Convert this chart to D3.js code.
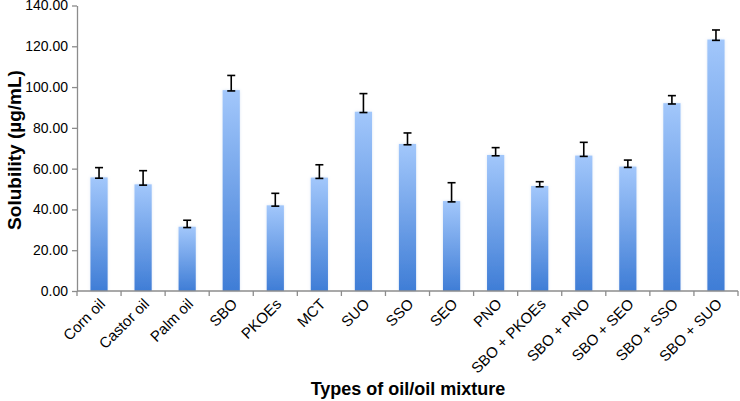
<!DOCTYPE html>
<html>
<head>
<meta charset="utf-8">
<script src="https://cdn.jsdelivr.net/npm/d3@7"></script>
<style>
  body { margin: 0; background: #fff; }
  svg { display: block; font-family: "Liberation Sans", Arial, sans-serif; }
  .tick-label { font-size: 14px; fill: #000; }
  .axis-title { font-size: 18px; font-weight: bold; fill: #000; }
</style>
</head>
<body>
<div id="chart"></div>
<script>
const width = 740, height = 401;
const margin = { top: 5.5, right: 2, bottom: 110, left: 77 };
const innerWidth = width - margin.left - margin.right;
const innerHeight = height - margin.top - margin.bottom;

// data
const oils = ["Corn oil", "Castor oil", "Palm oil", "SBO", "PKOEs", "MCT", "SUO", "SSO", "SEO", "PNO",
  "SBO + PKOEs", "SBO + PNO", "SBO + SEO", "SBO + SSO", "SBO + SUO"];
const solubility = [55.7, 52.3, 31.5, 98.5, 42.0, 55.6, 87.9, 72.1, 44.1, 66.7, 51.5, 66.4, 61.0, 92.1, 123.3];
const errPlus = [4.8, 6.7, 3.2, 7.2, 5.9, 6.3, 8.9, 5.4, 9.0, 3.6, 2.1, 6.5, 3.2, 3.7, 4.7];
const yTicks = [0, 20, 40, 60, 80, 100, 120, 140];

const data = oils.map((o, i) => ({ oil: o, value: solubility[i], err: errPlus[i] }));

const svg = d3.select("#chart")
  .append("svg")
  .attr("width", width)
  .attr("height", height);

const defs = svg.append("defs");
const grad = defs.append("linearGradient")
  .attr("id", "barGrad")
  .attr("x1", 0).attr("y1", 0).attr("x2", 0).attr("y2", 1);
grad.append("stop").attr("offset", "0%").attr("stop-color", "#a2c7fb");
grad.append("stop").attr("offset", "100%").attr("stop-color", "#3f7dd6");

const glow = defs.append("filter").attr("id", "glow")
  .attr("x", "-30%").attr("y", "-10%").attr("width", "160%").attr("height", "120%");
glow.append("feGaussianBlur").attr("in", "SourceAlpha").attr("stdDeviation", 1.5).attr("result", "b");
glow.append("feFlood").attr("flood-color", "#9ab8e0").attr("flood-opacity", 0.35);
glow.append("feComposite").attr("in2", "b").attr("operator", "in").attr("result", "s");
const merge = glow.append("feMerge");
merge.append("feMergeNode").attr("in", "s");
merge.append("feMergeNode").attr("in", "SourceGraphic");

const innerChart = svg.append("g")
  .attr("transform", `translate(${margin.left}, ${margin.top})`);

const xScale = d3.scaleBand()
  .domain(oils)
  .range([0, innerWidth])
  .paddingInner(0.61)
  .paddingOuter(0.305);

const yScale = d3.scaleLinear()
  .domain([0, 140])
  .range([innerHeight, 0]);

// bars
innerChart.selectAll("rect.bar")
  .data(data)
  .join("rect")
  .attr("class", "bar")
  .attr("x", d => xScale(d.oil))
  .attr("y", d => yScale(d.value))
  .attr("width", xScale.bandwidth())
  .attr("height", d => innerHeight - yScale(d.value))
  .attr("fill", "url(#barGrad)")
  .attr("filter", "url(#glow)");

// error bars (plus direction, capped at both ends)
const capW = 4;
const errG = innerChart.append("g")
  .attr("stroke", "#000")
  .attr("stroke-width", 1.6);
data.forEach(d => {
  const cx = xScale(d.oil) + xScale.bandwidth() / 2;
  const y0 = yScale(d.value) + 0.8;
  const y1 = yScale(d.value + d.err);
  errG.append("line").attr("x1", cx).attr("x2", cx).attr("y1", y0).attr("y2", y1);
  errG.append("line").attr("x1", cx - capW).attr("x2", cx + capW).attr("y1", y0).attr("y2", y0);
  errG.append("line").attr("x1", cx - capW).attr("x2", cx + capW).attr("y1", y1).attr("y2", y1);
});

// y axis
const leftAxis = d3.axisLeft(yScale)
  .tickValues(yTicks)
  .tickFormat(d3.format(".2f"))
  .tickSizeInner(5)
  .tickSizeOuter(0)
  .tickPadding(4);
const yAxisG = innerChart.append("g").call(leftAxis);
yAxisG.select(".domain").attr("stroke", "#8c8c8c").attr("stroke-width", 1.3);
yAxisG.selectAll(".tick line").attr("stroke", "#8c8c8c").attr("stroke-width", 1.3);
yAxisG.selectAll(".tick text").attr("class", "tick-label")
  .style("font-family", "'Liberation Sans', Arial, sans-serif");

// x axis: line plus ticks at category boundaries
const xAxisG = innerChart.append("g")
  .attr("transform", `translate(0, ${innerHeight})`);
xAxisG.append("line")
  .attr("x1", 0).attr("x2", innerWidth)
  .attr("stroke", "#8c8c8c").attr("stroke-width", 1.3);
const step = xScale.step();
const bounds = d3.range(oils.length + 1).map(i => xScale(oils[0]) - xScale.paddingOuter() * step + i * step);
xAxisG.selectAll("line.xtick")
  .data(bounds)
  .join("line")
  .attr("class", "xtick")
  .attr("x1", d => d).attr("x2", d => d)
  .attr("y1", 0).attr("y2", 5)
  .attr("stroke", "#8c8c8c").attr("stroke-width", 1.3);

xAxisG.selectAll("text.xlabel")
  .data(oils)
  .join("text")
  .attr("class", "tick-label xlabel")
  .style("font-size", "15px")
  .attr("text-anchor", "end")
  .attr("transform", d => `translate(${xScale(d) + xScale.bandwidth() / 2 + 7}, 14) rotate(-45)`)
  .text(d => d);

// axis titles
svg.append("text")
  .attr("class", "axis-title")
  .attr("text-anchor", "middle")
  .attr("x", 408)
  .attr("y", 395)
  .text("Types of oil/oil mixture");

svg.append("text")
  .attr("class", "axis-title")
  .style("font-size", "19px")
  .attr("text-anchor", "middle")
  .attr("transform", "translate(21, 150) rotate(-90)")
  .text("Solubility (µg/mL)");
</script>
</body>
</html>
